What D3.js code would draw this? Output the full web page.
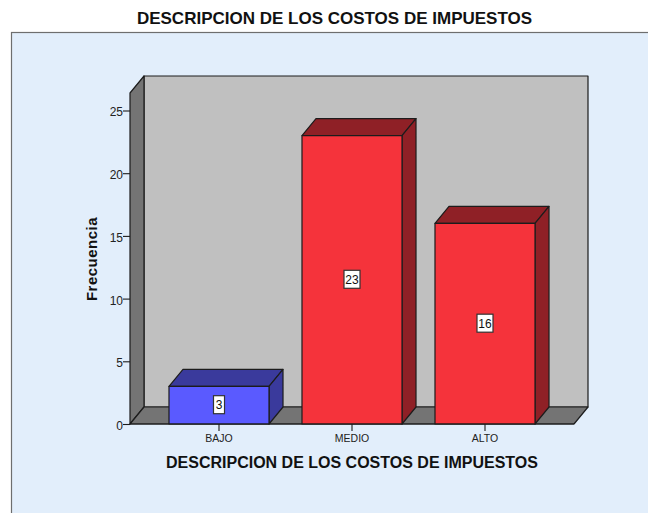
<!DOCTYPE html>
<html><head><meta charset="utf-8">
<script src="https://cdn.jsdelivr.net/npm/d3@7/dist/d3.min.js"></script>
<style>html,body{margin:0;padding:0;background:#fff}svg{display:block}text{font-family:"Liberation Sans",Arial,sans-serif}</style>
</head><body><svg id="c" width="648" height="513"></svg>
<script>
const categories = ["BAJO","MEDIO","ALTO"];
const frecuencia = [3,23,16];
const barFront = ["#5a5aff","#f5333b","#f5333b"];
const barDark = ["#3a3a9c","#8f2026","#8f2026"];
const yTicks = [0,5,10,15,20,25];
const titleText = "DESCRIPCION DE LOS COSTOS DE IMPUESTOS";
const yLabel = "Frecuencia";

const svg = d3.select("#c");
const line = "#1c1c1c";
const dx = 14, dy = -17;
const x0 = 130, x1 = 574, yBase = 424, yTop = 93;
const y = d3.scaleLinear().domain([0,25]).range([424,110.5]);
const x = d3.scaleBand().domain(categories).range([152.5,551.5]).paddingInner(0.248).paddingOuter(0.124);

svg.append("rect").attr("x",11.5).attr("y",32.5).attr("width",640).attr("height",490)
  .attr("fill","#e2eefb").attr("stroke","#6e6e6e").attr("stroke-width",1.2);

svg.append("text").attr("x",334.5).attr("y",24).attr("text-anchor","middle")
  .attr("font-size",17).attr("font-weight",700).attr("fill","#111").text(titleText);

const poly = (pts,fill,sw=1.2)=>svg.append("polygon").attr("points",pts.map(p=>p.join(",")).join(" "))
  .attr("fill",fill).attr("stroke",line).attr("stroke-width",sw).attr("stroke-linejoin","round");

// back wall, left wall, floor
poly([[x0+dx,yTop+dy],[x1+dx,yTop+dy],[x1+dx,yBase+dy],[x0+dx,yBase+dy]],"#c0c0c0");
poly([[x0,yTop],[x0+dx,yTop+dy],[x0+dx,yBase+dy],[x0,yBase]],"#747474");
poly([[x0,yBase],[x0+dx,yBase+dy],[x1+dx,yBase+dy],[x1,yBase]],"#747474");

// y axis
const gy = svg.append("g").attr("transform",`translate(${x0},0)`)
  .call(d3.axisLeft(y).tickValues(yTicks).tickSize(7).tickPadding(0).tickSizeOuter(0));
gy.select(".domain").remove();
gy.selectAll("line").attr("stroke",line).attr("stroke-width",1.1);
gy.selectAll("text").attr("font-size",12).attr("dy","0.45em").attr("fill","#222").attr("font-family","Liberation Sans");

// bars
categories.forEach((c,i)=>{
  const bx=x(c), bw=x.bandwidth(), ty=y(frecuencia[i]);
  poly([[bx,ty],[bx+dx,ty+dy],[bx+bw+dx,ty+dy],[bx+bw,ty]],barDark[i]);
  poly([[bx+bw,ty],[bx+bw+dx,ty+dy],[bx+bw+dx,yBase+dy],[bx+bw,yBase]],barDark[i]);
  poly([[bx,ty],[bx+bw,ty],[bx+bw,yBase],[bx,yBase]],barFront[i]);
  const cx=bx+bw/2, cy=(ty+yBase)/2-.5;
  const hw=frecuencia[i]>=10?8:5.5;
  svg.append("rect").attr("x",cx-hw).attr("y",cy-9).attr("width",2*hw).attr("height",18)
    .attr("fill","#fff").attr("stroke","#333").attr("stroke-width",1.2);
  svg.append("text").attr("x",cx).attr("y",cy+4.5).attr("text-anchor","middle")
    .attr("font-size",12).attr("fill","#111").text(frecuencia[i]);
});

// x axis
const gx = svg.append("g").attr("transform",`translate(0,${yBase})`)
  .call(d3.axisBottom(x).tickSize(7).tickPadding(4).tickSizeOuter(0));
gx.select(".domain").remove();
gx.selectAll("line").attr("stroke",line).attr("stroke-width",1.1);
gx.selectAll("text").attr("font-size",10.5).attr("fill","#222").attr("font-family","Liberation Sans");

svg.append("line").attr("x1",x0).attr("x2",x1).attr("y1",yBase).attr("y2",yBase).attr("stroke",line).attr("stroke-width",1.2);

svg.append("text").attr("x",352).attr("y",468).attr("text-anchor","middle")
  .attr("font-size",16).attr("font-weight",700).attr("fill","#111").text(titleText);
svg.append("text").attr("transform","translate(97,259) rotate(-90)").attr("text-anchor","middle")
  .attr("font-size",15).attr("letter-spacing",0.5).attr("font-weight",700).attr("fill","#111").text(yLabel);
</script></body></html>
